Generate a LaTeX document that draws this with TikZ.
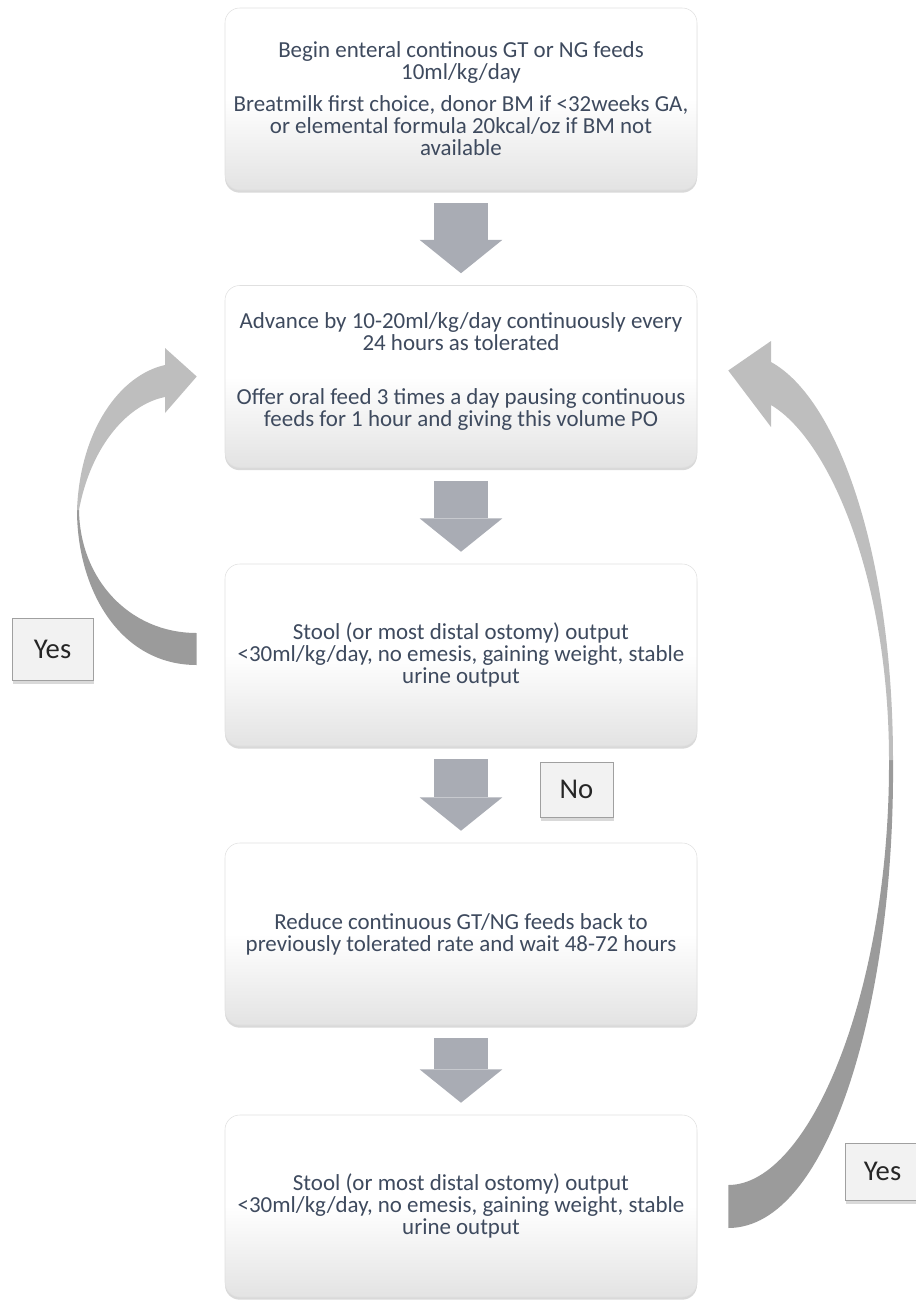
\documentclass[tikz,border=0pt]{standalone}
\usepackage{fontspec}
\setmainfont{Carlito}
\usetikzlibrary{arrows.meta,calc,shadows}
\definecolor{slate}{RGB}{62,74,94}
\definecolor{arrowgrey}{RGB}{169,172,180}
\definecolor{looplight}{RGB}{190,190,190}
\definecolor{loopdark}{RGB}{155,155,155}
\definecolor{labelfill}{RGB}{242,242,242}
\definecolor{labeledge}{RGB}{160,160,160}

\begin{document}
\begin{tikzpicture}[x=0.75pt,y=-0.75pt,
    stepbox/.style={rounded corners=11pt, draw=black!12, top color=white, bottom color=black!11, middle color=white,
        minimum width=354pt, minimum height=136.5pt, align=center, text=slate,
        font=\fontsize{17.2}{16.5}\selectfont, drop shadow={opacity=0.3, shadow xshift=0pt, shadow yshift=-2pt}},
    answer/.style={draw=labeledge, fill=labelfill, text=black!85, font=\fontsize{21.5}{21.5}\selectfont,
        drop shadow={opacity=0.3, shadow xshift=1pt, shadow yshift=-3pt}},
    down/.style={line width=40pt, draw=arrowgrey, -{Triangle[width=62pt,length=25pt,line width=0pt]},
        shorten <=9.75pt, shorten >=9pt}]
    \useasboundingbox (0,0) rectangle (916,1300);
    \node[stepbox] (b1) at (461,99) {Begin enteral continous GT or NG feeds\\ 10ml/kg/day\\[7.5pt]
        Breatmilk first choice, donor BM if <32weeks GA,\\ or elemental formula 20kcal/oz if BM not\\ available};
    \node[stepbox] (b2) at (461,376.5) {Advance by 10-20ml/kg/day continuously every\\ 24 hours as tolerated\\[24pt]
        Offer oral feed 3 times a day pausing continuous\\ feeds for 1 hour and giving this volume PO\\[-6pt]\mbox{}};
    \node[stepbox] (b3) at (461,655) {Stool (or most distal ostomy) output\\ <30ml/kg/day, no emesis, gaining weight, stable\\ urine output};
    \node[stepbox] (b4) at (461,934) {Reduce continuous GT/NG feeds back to\\ previously tolerated rate and wait 48-72 hours};
    \node[stepbox] (b5) at (461,1206) {Stool (or most distal ostomy) output\\ <30ml/kg/day, no emesis, gaining weight, stable\\ urine output};
    \draw[down] (b1) -- (b2);
    \draw[down] (b2) -- (b3);
    \draw[down] (b3) -- (b4);
    \draw[down] (b4) -- (b5);
    % loop back on the left
    \fill[loopdark] ($(b3.west)+(-28,10)$) .. controls (120,665) and (77,590) .. (77,510) -- (79,510)
        .. controls (80,580) and (130,633) .. ($(b3.west)+(-28,-22)$) -- cycle;
    \fill[looplight] (77,510) .. controls (80,430) and (120,375) .. (165,365) -- (165,348) -- ($(b2.west)+(-28,0)$)
        -- (165,413) -- (165,397) .. controls (125,405) and (90,450) .. (79,510) -- cycle;
    % loop back on the right
    \fill[loopdark] (893,760) .. controls (895,1000) and (830,1228) .. ($(b5.east)+(31,22)$) -- ($(b5.east)+(31,-21)$)
        .. controls (810,1185) and (890,990) .. (889,760) -- cycle;
    \fill[looplight] ($(b2.east)+(31,-6)$) -- (771,341) -- (771,362) .. controls (840,400) and (893,560) .. (893,760)
        -- (889,760) .. controls (889,580) and (830,440) .. (771,405) -- (771,427) -- cycle;
    \node[answer, minimum width=60.75pt, minimum height=46.5pt] (yes1) at (52.5,649) {Yes};
    \node[answer, minimum width=54.75pt, minimum height=41.25pt] (no) at (576.5,789.5) {No};
    \node[answer, minimum width=56.25pt, minimum height=42.75pt] (yes2) at (882.5,1171.5) {Yes};
\end{tikzpicture}
\end{document}
